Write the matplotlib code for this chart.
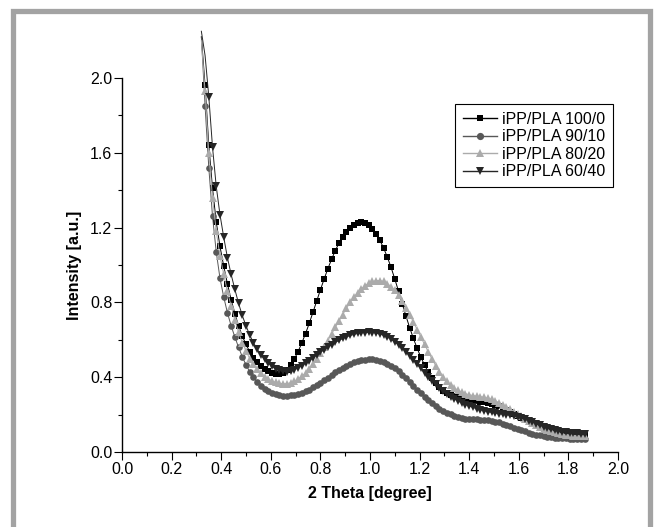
import numpy as np
import matplotlib
matplotlib.use('Agg')
import matplotlib.pyplot as plt
from matplotlib.lines import Line2D
from matplotlib.patches import Rectangle

plt.rcParams['font.family'] = ['Liberation Sans', 'DejaVu Sans']

# 2 theta grid (degree)
two_theta = [0.320, 0.335, 0.350, 0.365, 0.380, 0.395, 0.410, 0.425, 0.440, 0.455,
             0.470, 0.485, 0.500, 0.515, 0.530, 0.545, 0.560, 0.575, 0.590, 0.605,
             0.620, 0.635, 0.650, 0.665, 0.680, 0.695, 0.710, 0.725, 0.740, 0.755,
             0.770, 0.785, 0.800, 0.815, 0.830, 0.845, 0.860, 0.875, 0.890, 0.905,
             0.920, 0.935, 0.950, 0.965, 0.980, 0.995, 1.010, 1.025, 1.040, 1.055,
             1.070, 1.085, 1.100, 1.115, 1.130, 1.145, 1.160, 1.175, 1.190, 1.205,
             1.220, 1.235, 1.250, 1.265, 1.280, 1.295, 1.310, 1.325, 1.340, 1.355,
             1.370, 1.385, 1.400, 1.415, 1.430, 1.445, 1.460, 1.475, 1.490, 1.505,
             1.520, 1.535, 1.550, 1.565, 1.580, 1.595, 1.610, 1.625, 1.640, 1.655,
             1.670, 1.685, 1.700, 1.715, 1.730, 1.745, 1.760, 1.775, 1.790, 1.805,
             1.820, 1.835, 1.850, 1.865]

# iPP/PLA 100/0
int_100_0 = [2.22, 1.96, 1.64, 1.41, 1.23, 1.10, 0.995, 0.90, 0.815, 0.74,
             0.675, 0.62, 0.575, 0.537, 0.505, 0.48, 0.46, 0.444, 0.432, 0.423,
             0.418, 0.418, 0.425, 0.44, 0.465, 0.497, 0.537, 0.583, 0.633, 0.688,
             0.747, 0.807, 0.867, 0.925, 0.98, 1.03, 1.077, 1.117, 1.15, 1.178,
             1.20, 1.215, 1.225, 1.23, 1.226, 1.214, 1.194, 1.167, 1.132, 1.09,
             1.042, 0.987, 0.925, 0.86, 0.793, 0.727, 0.665, 0.607, 0.555, 0.507,
             0.465, 0.427, 0.395, 0.367, 0.345, 0.328, 0.315, 0.305, 0.298, 0.292,
             0.287, 0.283, 0.279, 0.276, 0.273, 0.27, 0.267, 0.263, 0.258, 0.252,
             0.245, 0.236, 0.226, 0.216, 0.205, 0.193, 0.182, 0.17, 0.159, 0.149,
             0.14, 0.131, 0.124, 0.117, 0.111, 0.106, 0.102, 0.099, 0.096, 0.094,
             0.092, 0.091, 0.09, 0.09]

# iPP/PLA 90/10
int_90_10 = [2.22, 1.85, 1.52, 1.26, 1.07, 0.93, 0.83, 0.745, 0.675, 0.615,
             0.56, 0.51, 0.465, 0.43, 0.40, 0.375, 0.355, 0.338, 0.325, 0.316,
             0.309, 0.305, 0.302, 0.302, 0.303, 0.306, 0.31, 0.316, 0.324, 0.334,
             0.345, 0.357, 0.37, 0.384, 0.398, 0.412, 0.426, 0.439, 0.451, 0.462,
             0.471, 0.479, 0.485, 0.49, 0.493, 0.495, 0.495, 0.493, 0.489, 0.482,
             0.473, 0.461, 0.447, 0.431, 0.413, 0.394, 0.374, 0.354, 0.333, 0.313,
             0.294, 0.276, 0.26, 0.245, 0.232, 0.22, 0.21, 0.201, 0.194, 0.188,
             0.183, 0.179, 0.176, 0.175, 0.174, 0.173, 0.172, 0.17, 0.167, 0.163,
             0.158, 0.152, 0.145, 0.138, 0.131, 0.124, 0.117, 0.11, 0.104, 0.098,
             0.093, 0.089, 0.085, 0.082, 0.079, 0.077, 0.075, 0.074, 0.073, 0.072,
             0.071, 0.07, 0.07, 0.07]

# iPP/PLA 80/20
int_80_20 = [2.2, 1.93, 1.60, 1.36, 1.18, 1.05, 0.95, 0.86, 0.78, 0.705,
             0.64, 0.585, 0.54, 0.50, 0.468, 0.442, 0.42, 0.403, 0.39, 0.38,
             0.372, 0.367, 0.365, 0.366, 0.37, 0.378, 0.39, 0.405, 0.423, 0.445,
             0.47, 0.50, 0.53, 0.562, 0.596, 0.63, 0.666, 0.70, 0.735, 0.768,
             0.80, 0.828, 0.852, 0.873, 0.89, 0.903, 0.912, 0.917, 0.917, 0.912,
             0.90, 0.885, 0.865, 0.838, 0.806, 0.77, 0.735, 0.695, 0.655, 0.615,
             0.575, 0.535, 0.497, 0.462, 0.43, 0.402, 0.378, 0.358, 0.342, 0.33,
             0.32, 0.312, 0.306, 0.302, 0.299, 0.296, 0.293, 0.288, 0.282, 0.274,
             0.264, 0.253, 0.241, 0.229, 0.216, 0.203, 0.19, 0.177, 0.165, 0.154,
             0.143, 0.134, 0.125, 0.118, 0.111, 0.105, 0.10, 0.096, 0.093, 0.09,
             0.088, 0.087, 0.086, 0.086]

# iPP/PLA 60/40
int_60_40 = [2.25, 2.12, 1.90, 1.63, 1.42, 1.27, 1.15, 1.04, 0.95, 0.87,
             0.795, 0.73, 0.675, 0.625, 0.585, 0.55, 0.52, 0.495, 0.475, 0.458,
             0.445, 0.436, 0.431, 0.43, 0.433, 0.44, 0.45, 0.462, 0.475, 0.489,
             0.504, 0.518, 0.533, 0.547, 0.561, 0.574, 0.586, 0.597, 0.607, 0.616,
             0.623, 0.629, 0.634, 0.637, 0.639, 0.64, 0.639, 0.636, 0.631, 0.624,
             0.615, 0.603, 0.589, 0.573, 0.555, 0.535, 0.514, 0.492, 0.47, 0.447,
             0.424, 0.402, 0.381, 0.361, 0.342, 0.325, 0.31, 0.296, 0.284, 0.273,
             0.263, 0.254, 0.246, 0.239, 0.232, 0.226, 0.221, 0.216, 0.212, 0.208,
             0.205, 0.202, 0.199, 0.196, 0.192, 0.187, 0.181, 0.174, 0.167, 0.159,
             0.151, 0.143, 0.136, 0.129, 0.123, 0.117, 0.112, 0.108, 0.105, 0.102,
             0.1, 0.099, 0.098, 0.098]

labels = ['iPP/PLA 100/0', 'iPP/PLA 90/10', 'iPP/PLA 80/20', 'iPP/PLA 60/40']
series = [int_100_0, int_90_10, int_80_20, int_60_40]
colors = ['#000000', '#585858', '#ababab', '#262626']
markers = ['s', 'o', '^', 'v']
msizes = [4.0, 4.8, 5.2, 5.2]


def main():
    fig = plt.figure(figsize=(6.55, 5.27), dpi=100)
    ax = fig.add_axes([122 / 655, 75 / 527, 496 / 655, 374 / 527])

    # gray frame round the picture
    fig.patches.append(Rectangle((13 / 655, -0.05), 636.5 / 655, (527 - 10.5) / 527 + 0.05,
                                 transform=fig.transFigure, fill=False,
                                 ec='#a3a3a3', lw=3.8))

    handles = []
    for y, c, m, s in zip(series, colors, markers, msizes):
        ax.plot(two_theta, y, '-', color=c, lw=0.7, clip_on=False)
        ax.plot(two_theta, y, ls='none', marker=m, ms=s, color=c, mew=0)
        handles.append(Line2D([], [], color=c, marker=m, ms=s + 0.4, lw=1.0, mew=0))

    ax.set_xlim(0, 2.0)
    ax.set_ylim(0, 2.0)
    ax.spines['top'].set_visible(False)
    ax.spines['right'].set_visible(False)
    for sp in ['left', 'bottom']:
        ax.spines[sp].set_linewidth(1.0)

    ax.set_xticks(np.arange(0, 2.01, 0.2))
    ax.set_xticks(np.arange(0.1, 2.0, 0.2), minor=True)
    ax.set_yticks(np.arange(0, 2.01, 0.4))
    ax.set_yticks(np.arange(0.2, 2.0, 0.4), minor=True)
    ax.xaxis.set_major_formatter('{x:.1f}')
    ax.yaxis.set_major_formatter('{x:.1f}')
    ax.tick_params(which='major', direction='out', length=5.5, width=0.8,
                   labelsize=11.5, pad=1.5)
    ax.tick_params(which='minor', direction='out', length=2.8, width=0.8)

    ax.set_xlabel('2 Theta [degree]', fontsize=11.5, fontweight='bold', labelpad=7)
    ax.set_ylabel('Intensity [a.u.]', fontsize=11.5, fontweight='bold', labelpad=6)

    leg = ax.legend(handles, labels, loc='upper left',
                    bbox_to_anchor=(455 / 655, 1 - 104 / 527),
                    bbox_transform=fig.transFigure, fancybox=False,
                    edgecolor='black', framealpha=1, fontsize=11.5,
                    handlelength=2.1, handletextpad=0.35, labelspacing=0.15,
                    borderpad=0.5, borderaxespad=0)
    leg.get_frame().set_linewidth(0.8)

    fig.savefig('out.png', dpi=100)


if __name__ == "__main__":
    main()
